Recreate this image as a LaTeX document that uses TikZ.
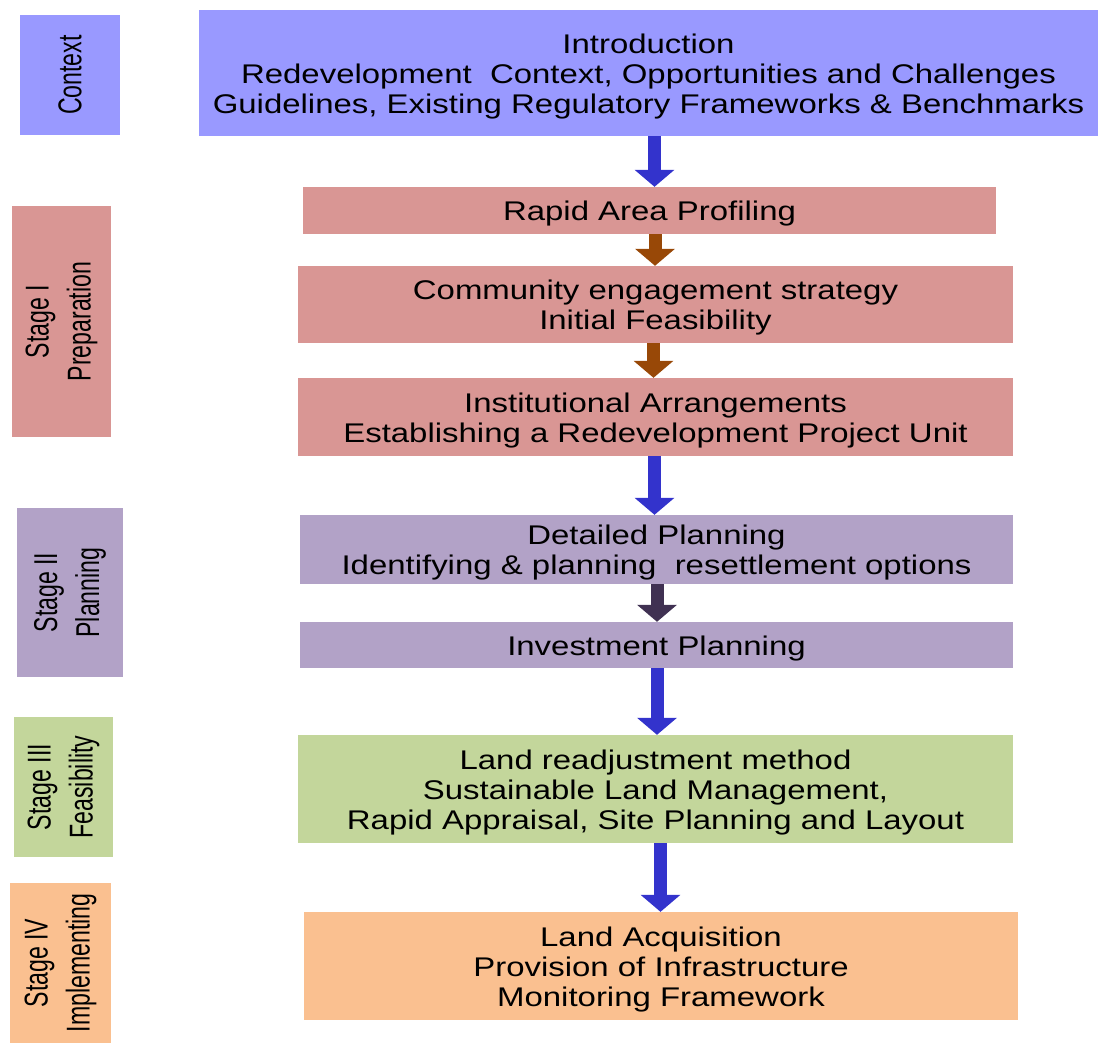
\documentclass[tikz,border=0pt]{standalone}
\usepackage{fontspec}
\usetikzlibrary{arrows.meta}
\newfontfamily\mainf[FakeStretch=1.22]{Liberation Sans}
\newfontfamily\sidef[FakeStretch=0.7]{Liberation Sans}
\newcommand\dnstrut{\rule{0pt}{26pt}}
\definecolor{ctxcol}{HTML}{9999FF}
\definecolor{s1col}{HTML}{D99694}
\definecolor{s2col}{HTML}{B2A2C7}
\definecolor{s3col}{HTML}{C3D69B}
\definecolor{s4col}{HTML}{FAC090}
\definecolor{bluearr}{HTML}{3333CC}
\definecolor{brownarr}{HTML}{984807}
\definecolor{darkarr}{HTML}{403152}
\tikzset{
  mainbox/.style={inner sep=0pt, align=center, font=\mainf\fontsize{27}{30}\selectfont, text=black},
  sidebox/.style={inner sep=0pt, align=center, rotate=90, font=\sidef\fontsize{33}{42}\selectfont, text=black},
  blockarrow/.style={line width=13pt, -{Triangle[width=39pt,length=17pt]}},
}
\begin{document}
\begin{tikzpicture}[x=1pt,y=-1pt]
\useasboundingbox (0,0) rectangle (1098,1045);
% side labels
\node[sidebox, fill=ctxcol, minimum width=120pt, minimum height=100pt] (ctx) at (70,75) {Context};
\node[sidebox, fill=s1col, minimum width=231pt, minimum height=99pt] (st1) at (61.5,321.5) {Stage I\\Preparation};
\node[sidebox, fill=s2col, minimum width=169pt, minimum height=106pt] (st2) at (70,592.5) {Stage II\\Planning};
\node[sidebox, fill=s3col, minimum width=140pt, minimum height=99pt] (st3) at (63.5,787) {Stage III\\Feasibility};
\node[sidebox, fill=s4col, minimum width=160pt, minimum height=101pt] (st4) at (60.5,963) {Stage IV\\Implementing};
% main boxes
\node[mainbox, fill=ctxcol, minimum width=899pt, minimum height=126pt] (intro) at (648.5,73)
  {\dnstrut Introduction\\Redevelopment\ \ Context, Opportunities and Challenges\\Guidelines, Existing Regulatory Frameworks \& Benchmarks};
\node[mainbox, fill=s1col, minimum width=693pt, minimum height=47pt] (rapid) at (649.5,210.5) {\dnstrut Rapid Area Profiling};
\node[mainbox, fill=s1col, minimum width=715pt, minimum height=77pt] (comm) at (655.5,304.5) {\dnstrut Community engagement strategy\\Initial Feasibility};
\node[mainbox, fill=s1col, minimum width=715pt, minimum height=78pt] (inst) at (655.5,417) {\dnstrut Institutional Arrangements\\Establishing a Redevelopment Project Unit};
\node[mainbox, fill=s2col, minimum width=713pt, minimum height=69pt] (detail) at (656.5,549.5) {\dnstrut Detailed Planning\\Identifying \& planning\ \ resettlement options};
\node[mainbox, fill=s2col, minimum width=713pt, minimum height=46pt] (invest) at (656.5,645) {\dnstrut Investment Planning};
\node[mainbox, fill=s3col, minimum width=715pt, minimum height=108pt] (landr) at (655.5,789) {\dnstrut Land readjustment method\\Sustainable Land Management,\\Rapid Appraisal, Site Planning and Layout};
\node[mainbox, fill=s4col, minimum width=714pt, minimum height=108pt] (landa) at (661,966) {\dnstrut Land Acquisition\\Provision of Infrastructure\\Monitoring Framework};
% arrow x positions
\coordinate (a1) at (654.5,0);
\coordinate (a2) at (655,0);
\coordinate (a3) at (653.5,0);
\coordinate (a4) at (654.5,0);
\coordinate (a5) at (657,0);
\coordinate (a6) at (657,0);
\coordinate (a7) at (660.5,0);
% arrows
\draw[blockarrow, bluearr] (intro.south -| a1) -- (rapid.north -| a1);
\draw[blockarrow, brownarr] (rapid.south -| a2) -- (comm.north -| a2);
\draw[blockarrow, brownarr] (comm.south -| a3) -- (inst.north -| a3);
\draw[blockarrow, bluearr] (inst.south -| a4) -- (detail.north -| a4);
\draw[blockarrow, darkarr] (detail.south -| a5) -- (invest.north -| a5);
\draw[blockarrow, bluearr] (invest.south -| a6) -- (landr.north -| a6);
\draw[blockarrow, bluearr] (landr.south -| a7) -- (landa.north -| a7);
\end{tikzpicture}
\end{document}
